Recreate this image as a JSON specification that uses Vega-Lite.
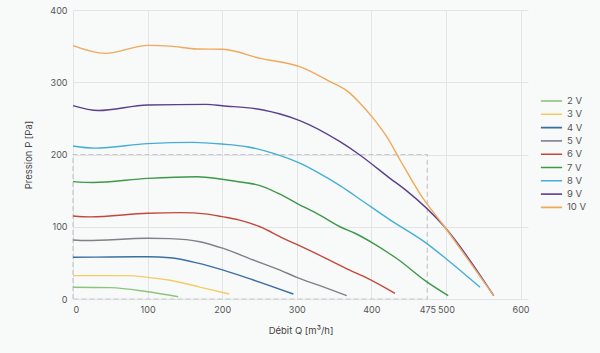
{
  "$schema": "https://vega.github.io/schema/vega-lite/v6.json",
  "width": 455,
  "height": 289,
  "autosize": {"type": "none"},
  "padding": {"left": 73, "top": 10, "right": 72, "bottom": 54},
  "background": "#f8f9f9",
  "config": {
    "view": {"stroke": null},
    "font": "Inter",
    "axis": {"labelColor": "#555555", "titleColor": "#444444", "labelFontSize": 9, "titleFontSize": 9.5, "titleFontWeight": "normal", "gridColor": "#e3e4e6", "domain": false, "ticks": false}
  },
  "datasets": {
    "curves": [
      {"s": "2 V", "q": 0, "p": 16.2}, {"s": "2 V", "q": 50, "p": 15.7}, {"s": "2 V", "q": 100, "p": 10}, {"s": "2 V", "q": 141, "p": 3.2},
      {"s": "3 V", "q": 0, "p": 32.3}, {"s": "3 V", "q": 72, "p": 32.3}, {"s": "3 V", "q": 100, "p": 30}, {"s": "3 V", "q": 130, "p": 26}, {"s": "3 V", "q": 170, "p": 16.5}, {"s": "3 V", "q": 209.6, "p": 6.9},
      {"s": "4 V", "q": 0, "p": 57.7}, {"s": "4 V", "q": 50, "p": 58.2}, {"s": "4 V", "q": 100, "p": 58.5}, {"s": "4 V", "q": 130, "p": 57}, {"s": "4 V", "q": 166, "p": 50}, {"s": "4 V", "q": 201.5, "p": 40}, {"s": "4 V", "q": 241.8, "p": 26.3}, {"s": "4 V", "q": 295.4, "p": 6.9},
      {"s": "5 V", "q": 0, "p": 81.7}, {"s": "5 V", "q": 18, "p": 80.9}, {"s": "5 V", "q": 100, "p": 84}, {"s": "5 V", "q": 130, "p": 83.5}, {"s": "5 V", "q": 170, "p": 79.3}, {"s": "5 V", "q": 201.5, "p": 70}, {"s": "5 V", "q": 241.8, "p": 54}, {"s": "5 V", "q": 277.6, "p": 40}, {"s": "5 V", "q": 300, "p": 30}, {"s": "5 V", "q": 331, "p": 18.5}, {"s": "5 V", "q": 367, "p": 4.6},
      {"s": "6 V", "q": 0, "p": 114.9}, {"s": "6 V", "q": 23, "p": 113.7}, {"s": "6 V", "q": 100, "p": 118.6}, {"s": "6 V", "q": 143, "p": 119.5}, {"s": "6 V", "q": 180, "p": 117.5}, {"s": "6 V", "q": 200, "p": 114}, {"s": "6 V", "q": 222, "p": 109.5}, {"s": "6 V", "q": 250.7, "p": 100}, {"s": "6 V", "q": 282, "p": 84}, {"s": "6 V", "q": 300, "p": 75.5}, {"s": "6 V", "q": 335.6, "p": 58}, {"s": "6 V", "q": 371, "p": 40}, {"s": "6 V", "q": 389, "p": 31.5}, {"s": "6 V", "q": 431.7, "p": 7.8},
      {"s": "7 V", "q": 0, "p": 162.4}, {"s": "7 V", "q": 27, "p": 161.2}, {"s": "7 V", "q": 100, "p": 167}, {"s": "7 V", "q": 166, "p": 169.3}, {"s": "7 V", "q": 200, "p": 165.7}, {"s": "7 V", "q": 224, "p": 162}, {"s": "7 V", "q": 250.7, "p": 157}, {"s": "7 V", "q": 277.6, "p": 145}, {"s": "7 V", "q": 300, "p": 132.5}, {"s": "7 V", "q": 331, "p": 116}, {"s": "7 V", "q": 358, "p": 100}, {"s": "7 V", "q": 378, "p": 91}, {"s": "7 V", "q": 402.6, "p": 77}, {"s": "7 V", "q": 425, "p": 62.3}, {"s": "7 V", "q": 434, "p": 56}, {"s": "7 V", "q": 474, "p": 24}, {"s": "7 V", "q": 503, "p": 4.6},
      {"s": "8 V", "q": 0, "p": 211.8}, {"s": "8 V", "q": 29.5, "p": 208.8}, {"s": "8 V", "q": 100, "p": 215}, {"s": "8 V", "q": 161, "p": 216.8}, {"s": "8 V", "q": 200, "p": 214.5}, {"s": "8 V", "q": 233, "p": 210.8}, {"s": "8 V", "q": 268.6, "p": 201.6}, {"s": "8 V", "q": 304, "p": 188}, {"s": "8 V", "q": 326.7, "p": 176}, {"s": "8 V", "q": 358, "p": 157}, {"s": "8 V", "q": 389, "p": 135}, {"s": "8 V", "q": 425, "p": 109.5}, {"s": "8 V", "q": 474, "p": 77}, {"s": "8 V", "q": 501, "p": 55}, {"s": "8 V", "q": 545.7, "p": 16.2},
      {"s": "9 V", "q": 0, "p": 267.6}, {"s": "9 V", "q": 34, "p": 260.8}, {"s": "9 V", "q": 100, "p": 268.5}, {"s": "9 V", "q": 179, "p": 269.4}, {"s": "9 V", "q": 200, "p": 267.5}, {"s": "9 V", "q": 255, "p": 261.6}, {"s": "9 V", "q": 277.6, "p": 256}, {"s": "9 V", "q": 304, "p": 247}, {"s": "9 V", "q": 358, "p": 217.7}, {"s": "9 V", "q": 385, "p": 199}, {"s": "9 V", "q": 425, "p": 167}, {"s": "9 V", "q": 447, "p": 150}, {"s": "9 V", "q": 498, "p": 100}, {"s": "9 V", "q": 564, "p": 4.6},
      {"s": "10 V", "q": 0, "p": 350.6}, {"s": "10 V", "q": 43, "p": 340}, {"s": "10 V", "q": 101, "p": 351}, {"s": "10 V", "q": 130, "p": 350}, {"s": "10 V", "q": 166, "p": 346}, {"s": "10 V", "q": 200.7, "p": 345.6}, {"s": "10 V", "q": 251, "p": 333}, {"s": "10 V", "q": 304, "p": 321.5}, {"s": "10 V", "q": 344.6, "p": 300.8}, {"s": "10 V", "q": 370, "p": 286}, {"s": "10 V", "q": 384.8, "p": 271}, {"s": "10 V", "q": 402.6, "p": 250}, {"s": "10 V", "q": 420.6, "p": 224.6}, {"s": "10 V", "q": 438.5, "p": 192.4}, {"s": "10 V", "q": 465, "p": 146}, {"s": "10 V", "q": 498, "p": 100}, {"s": "10 V", "q": 564, "p": 4.6}
    ],
    "box": [
      {"i": 0, "q": 0, "p": 0}, {"i": 1, "q": 0, "p": 200}, {"i": 2, "q": 475, "p": 200}, {"i": 3, "q": 475, "p": 0}, {"i": 4, "q": 0, "p": 0}
    ]
  },
  "layer": [
    {
      "data": {"name": "box"},
      "mark": {"type": "line", "color": "#c6c8cb", "strokeWidth": 1.2, "strokeDash": [5, 3]},
      "encoding": {
        "x": {"field": "q", "type": "quantitative", "scale": {"domain": [0, 610], "nice": false},
          "axis": {"values": [0, 100, 200, 300, 400, 475, 500, 600], "title": "Débit Q [m³/h]", "titlePadding": 11, "labelPadding": 6,
            "gridOpacity": {"condition": {"test": "datum.value == 475", "value": 0}, "value": 1}}},
        "y": {"field": "p", "type": "quantitative", "scale": {"domain": [0, 400], "nice": false},
          "axis": {"values": [0, 50, 100, 150, 200, 250, 300, 350, 400], "title": "Pression P [Pa]", "titlePadding": 16, "labelPadding": 6}},
        "order": {"field": "i", "type": "quantitative"}
      }
    },
    {
      "data": {"name": "curves"},
      "mark": {"type": "line", "interpolate": "monotone", "strokeWidth": 1.4},
      "encoding": {
        "x": {"field": "q", "type": "quantitative"},
        "y": {"field": "p", "type": "quantitative"},
        "color": {
          "field": "s", "type": "nominal",
          "scale": {"domain": ["2 V", "3 V", "4 V", "5 V", "6 V", "7 V", "8 V", "9 V", "10 V"],
            "range": ["#8cc57a", "#f2cd66", "#3a6ea5", "#7f8088", "#c4483a", "#3d9848", "#45aed6", "#5b3f8c", "#f0a95a"]},
          "legend": {"title": null, "orient": "none", "legendX": 467, "legendY": 86, "symbolType": "stroke", "symbolSize": 450, "symbolStrokeWidth": 1.6, "clipHeight": 10, "rowPadding": 3.3, "labelFontSize": 9.5, "labelColor": "#555555", "labelOffset": 4}
        }
      }
    }
  ]
}
